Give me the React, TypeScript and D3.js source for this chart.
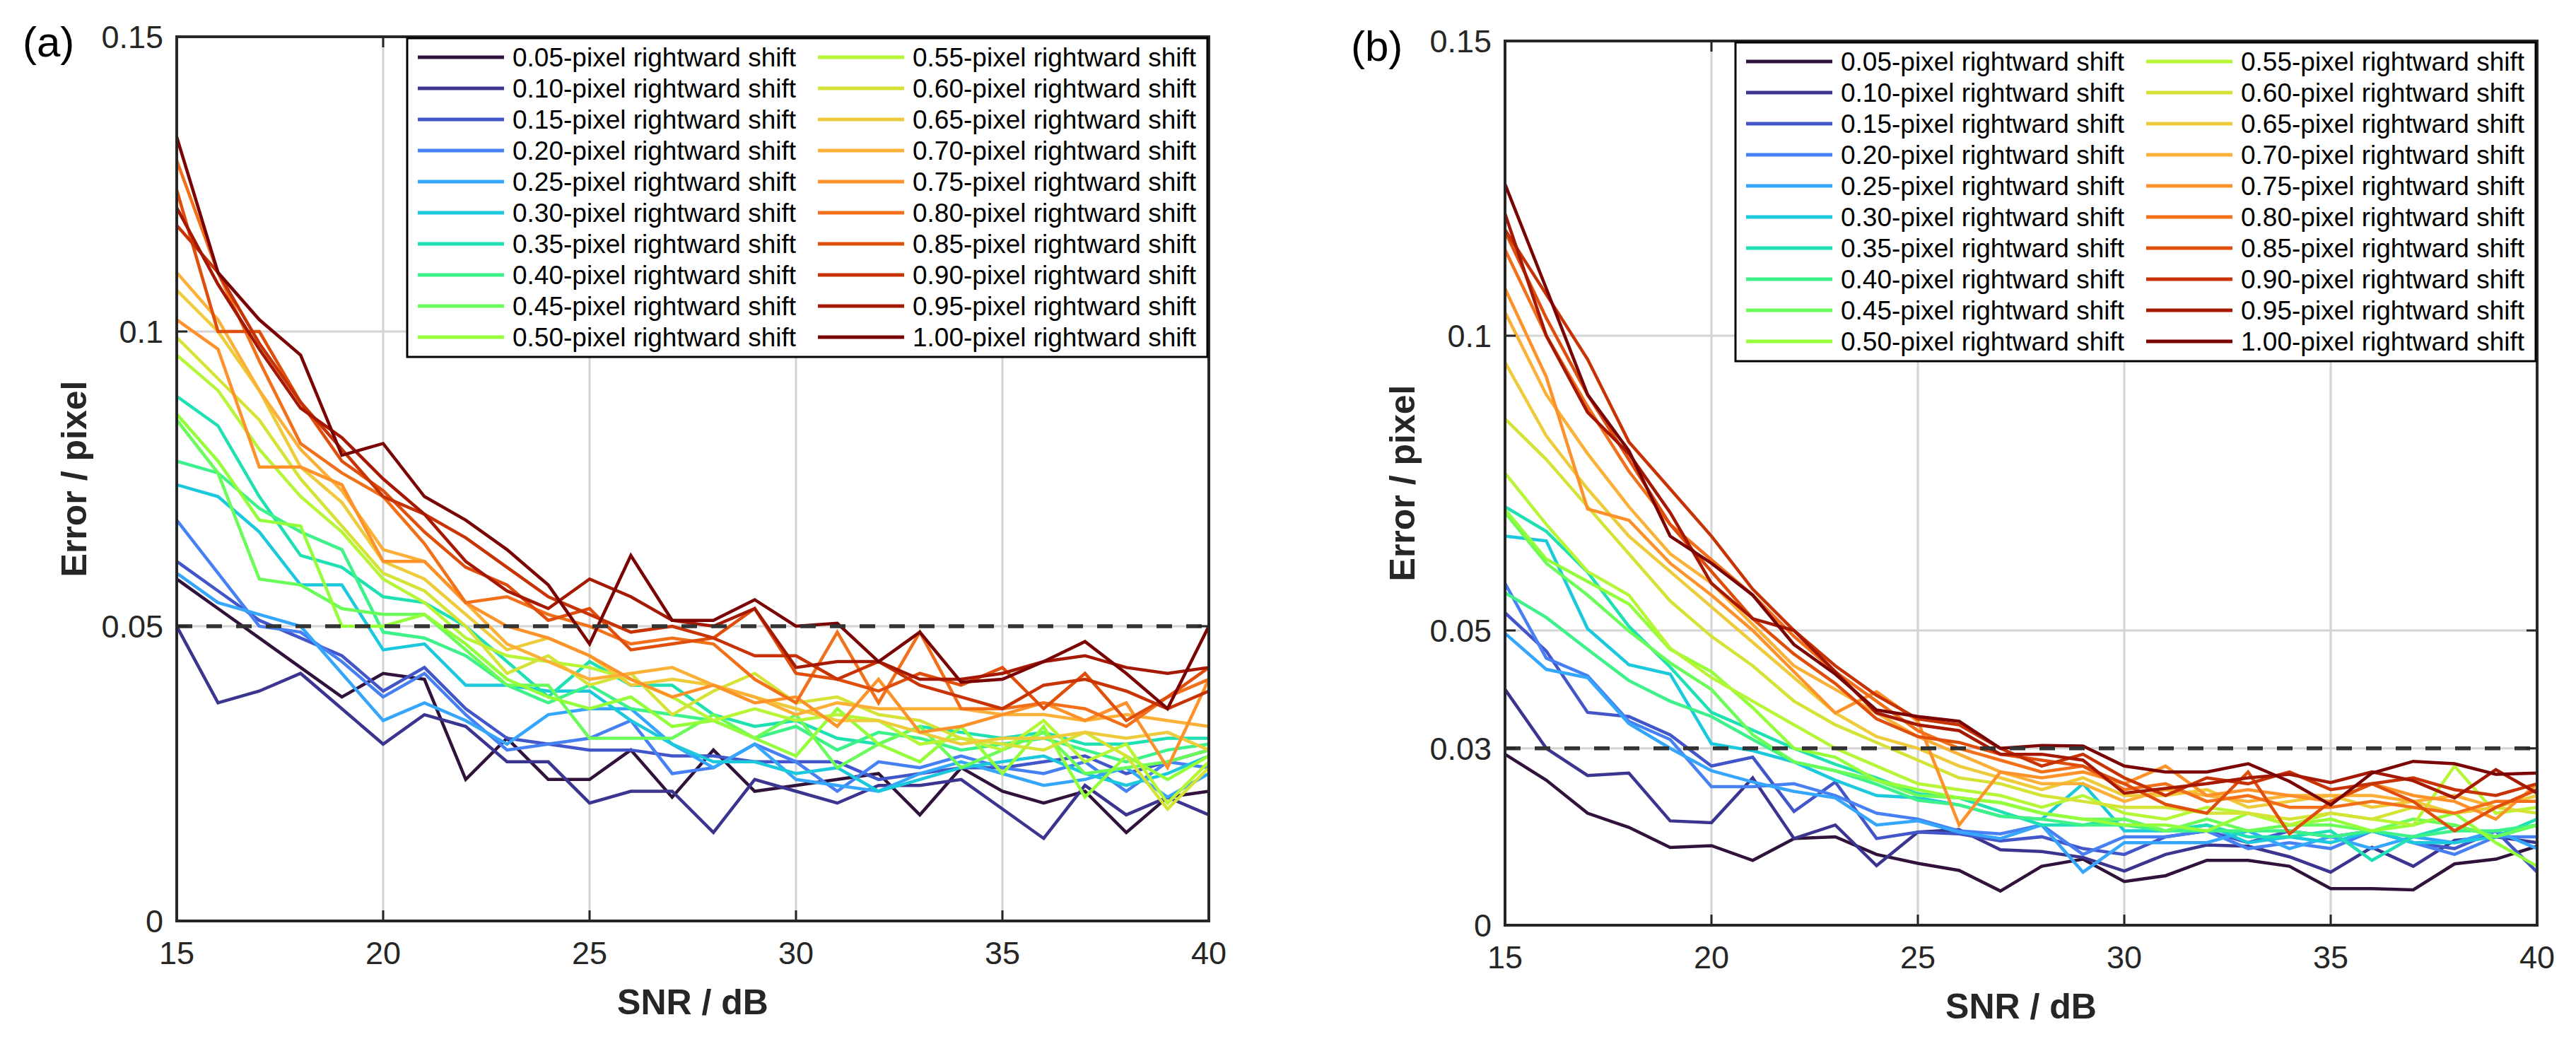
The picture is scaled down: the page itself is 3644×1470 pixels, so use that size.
import React from "react";
import * as d3 from "d3";

// ---------- data ----------
const snr = [15, 16, 17, 18, 19, 20, 21, 22, 23, 24, 25, 26, 27, 28, 29, 30, 31, 32, 33, 34, 35, 36, 37, 38, 39, 40];

const shiftLabels = [
  "0.05", "0.10", "0.15", "0.20", "0.25", "0.30", "0.35", "0.40", "0.45", "0.50",
  "0.55", "0.60", "0.65", "0.70", "0.75", "0.80", "0.85", "0.90", "0.95", "1.00",
];

const turboColors = [
  "#30123b", "#3b3590", "#4256c9", "#4680f2", "#35a6fb", "#1bc8dc", "#1fe0b2", "#3ef28a",
  "#6afd5a", "#94fe3b", "#b6f636", "#d5e336", "#eecb3a", "#fbb137", "#fd922a", "#f2701a",
  "#e04e0c", "#c73304", "#a51802", "#7a0403",
];

// panel (a) — error / pixel
const a05 = [0.058, 0.053, 0.048, 0.043, 0.038, 0.042, 0.041, 0.024, 0.031, 0.024, 0.024, 0.029, 0.021, 0.029, 0.022, 0.023, 0.024, 0.025, 0.018, 0.026, 0.022, 0.020, 0.022, 0.015, 0.021, 0.022];
const a10 = [0.050, 0.037, 0.039, 0.042, 0.036, 0.030, 0.035, 0.033, 0.027, 0.027, 0.020, 0.022, 0.022, 0.015, 0.024, 0.022, 0.020, 0.023, 0.023, 0.024, 0.019, 0.014, 0.023, 0.018, 0.021, 0.018];
const a15 = [0.061, 0.056, 0.051, 0.048, 0.045, 0.039, 0.043, 0.036, 0.031, 0.030, 0.029, 0.029, 0.028, 0.028, 0.027, 0.027, 0.027, 0.024, 0.025, 0.026, 0.026, 0.027, 0.028, 0.025, 0.027, 0.029];
const a20 = [0.068, 0.059, 0.050, 0.049, 0.044, 0.038, 0.042, 0.035, 0.029, 0.030, 0.031, 0.034, 0.025, 0.026, 0.030, 0.027, 0.022, 0.027, 0.026, 0.028, 0.026, 0.025, 0.027, 0.022, 0.027, 0.026];
const a25 = [0.059, 0.054, 0.052, 0.050, 0.042, 0.034, 0.037, 0.034, 0.030, 0.035, 0.036, 0.036, 0.030, 0.026, 0.030, 0.024, 0.023, 0.022, 0.025, 0.027, 0.025, 0.023, 0.024, 0.026, 0.021, 0.025];
const a30 = [0.074, 0.072, 0.066, 0.057, 0.057, 0.046, 0.047, 0.040, 0.040, 0.039, 0.039, 0.034, 0.030, 0.027, 0.027, 0.025, 0.026, 0.022, 0.024, 0.026, 0.027, 0.028, 0.025, 0.023, 0.025, 0.028];
const a35 = [0.089, 0.084, 0.072, 0.062, 0.060, 0.055, 0.054, 0.050, 0.044, 0.038, 0.044, 0.040, 0.040, 0.035, 0.033, 0.034, 0.031, 0.030, 0.033, 0.032, 0.031, 0.032, 0.030, 0.030, 0.031, 0.031];
const a40 = [0.078, 0.076, 0.070, 0.066, 0.063, 0.049, 0.048, 0.045, 0.040, 0.037, 0.040, 0.036, 0.035, 0.034, 0.031, 0.033, 0.029, 0.032, 0.031, 0.029, 0.030, 0.031, 0.029, 0.027, 0.029, 0.030];
const a45 = [0.085, 0.076, 0.058, 0.057, 0.053, 0.052, 0.052, 0.046, 0.040, 0.040, 0.031, 0.031, 0.031, 0.035, 0.031, 0.035, 0.026, 0.030, 0.033, 0.026, 0.029, 0.032, 0.025, 0.026, 0.027, 0.029];
const a50 = [0.086, 0.078, 0.068, 0.067, 0.050, 0.050, 0.052, 0.047, 0.041, 0.038, 0.036, 0.038, 0.033, 0.034, 0.031, 0.028, 0.036, 0.030, 0.027, 0.033, 0.025, 0.033, 0.021, 0.028, 0.024, 0.028];
const a55 = [0.096, 0.090, 0.080, 0.072, 0.066, 0.058, 0.054, 0.048, 0.045, 0.044, 0.043, 0.041, 0.038, 0.034, 0.036, 0.034, 0.035, 0.034, 0.030, 0.031, 0.029, 0.034, 0.027, 0.030, 0.020, 0.027];
const a60 = [0.099, 0.092, 0.085, 0.075, 0.067, 0.059, 0.056, 0.050, 0.042, 0.045, 0.040, 0.042, 0.035, 0.039, 0.042, 0.037, 0.038, 0.035, 0.034, 0.031, 0.030, 0.029, 0.032, 0.028, 0.019, 0.026];
const a65 = [0.107, 0.100, 0.090, 0.077, 0.071, 0.061, 0.058, 0.052, 0.046, 0.048, 0.045, 0.040, 0.041, 0.040, 0.038, 0.036, 0.034, 0.034, 0.032, 0.030, 0.031, 0.031, 0.032, 0.031, 0.032, 0.029];
const a70 = [0.110, 0.102, 0.090, 0.080, 0.073, 0.063, 0.061, 0.054, 0.047, 0.044, 0.041, 0.042, 0.043, 0.040, 0.038, 0.035, 0.037, 0.036, 0.036, 0.036, 0.035, 0.035, 0.034, 0.035, 0.034, 0.033];
const a75 = [0.102, 0.097, 0.077, 0.077, 0.074, 0.061, 0.061, 0.054, 0.050, 0.048, 0.045, 0.041, 0.038, 0.040, 0.037, 0.038, 0.033, 0.041, 0.032, 0.033, 0.035, 0.037, 0.034, 0.037, 0.026, 0.041];
const a80 = [0.129, 0.110, 0.095, 0.081, 0.076, 0.072, 0.064, 0.054, 0.055, 0.052, 0.050, 0.047, 0.048, 0.047, 0.041, 0.037, 0.049, 0.037, 0.049, 0.036, 0.036, 0.037, 0.036, 0.033, 0.038, 0.041];
const a85 = [0.124, 0.100, 0.100, 0.088, 0.078, 0.073, 0.066, 0.060, 0.057, 0.051, 0.053, 0.046, 0.047, 0.048, 0.053, 0.042, 0.041, 0.039, 0.042, 0.040, 0.043, 0.036, 0.042, 0.034, 0.038, 0.043];
const a90 = [0.118, 0.110, 0.098, 0.088, 0.080, 0.072, 0.069, 0.065, 0.060, 0.055, 0.052, 0.049, 0.050, 0.048, 0.045, 0.045, 0.041, 0.044, 0.040, 0.038, 0.036, 0.040, 0.041, 0.039, 0.036, 0.039];
const a95 = [0.121, 0.108, 0.097, 0.087, 0.082, 0.075, 0.069, 0.061, 0.056, 0.053, 0.058, 0.055, 0.051, 0.050, 0.053, 0.043, 0.044, 0.044, 0.041, 0.041, 0.042, 0.044, 0.045, 0.043, 0.042, 0.043];
const a100 = [0.133, 0.110, 0.102, 0.096, 0.079, 0.081, 0.072, 0.068, 0.063, 0.057, 0.047, 0.062, 0.051, 0.051, 0.0545, 0.050, 0.0505, 0.044, 0.049, 0.0405, 0.041, 0.044, 0.0474, 0.042, 0.036, 0.050];

// panel (b) — error / pixel
const b05 = [0.029, 0.0246, 0.019, 0.0166, 0.0132, 0.0135, 0.011, 0.0147, 0.015, 0.012, 0.0105, 0.0093, 0.0058, 0.010, 0.0112, 0.0074, 0.0084, 0.011, 0.011, 0.010, 0.0062, 0.0062, 0.006, 0.0104, 0.0112, 0.0134];
const b10 = [0.040, 0.030, 0.0254, 0.0258, 0.0177, 0.0174, 0.025, 0.0147, 0.017, 0.0101, 0.0158, 0.0162, 0.0128, 0.0125, 0.0115, 0.0092, 0.012, 0.0136, 0.0134, 0.0116, 0.009, 0.0132, 0.010, 0.0144, 0.015, 0.014];
const b15 = [0.053, 0.0465, 0.0361, 0.0354, 0.0323, 0.027, 0.0285, 0.0193, 0.0243, 0.0147, 0.0158, 0.0155, 0.0143, 0.015, 0.013, 0.012, 0.015, 0.016, 0.014, 0.016, 0.015, 0.016, 0.014, 0.013, 0.016, 0.009];
const b20 = [0.058, 0.0453, 0.0423, 0.0346, 0.0315, 0.0235, 0.0235, 0.024, 0.022, 0.019, 0.018, 0.016, 0.0155, 0.017, 0.012, 0.015, 0.015, 0.016, 0.013, 0.014, 0.013, 0.016, 0.014, 0.012, 0.015, 0.015];
const b25 = [0.0495, 0.0434, 0.042, 0.0342, 0.030, 0.0262, 0.0243, 0.0227, 0.0216, 0.017, 0.0177, 0.0158, 0.0147, 0.017, 0.009, 0.014, 0.014, 0.014, 0.016, 0.013, 0.015, 0.013, 0.015, 0.014, 0.016, 0.013];
const b30 = [0.066, 0.0652, 0.0503, 0.0442, 0.0426, 0.0308, 0.0296, 0.0277, 0.0246, 0.022, 0.0216, 0.0204, 0.0185, 0.018, 0.024, 0.016, 0.016, 0.017, 0.014, 0.015, 0.014, 0.016, 0.014, 0.014, 0.015, 0.017];
const b35 = [0.071, 0.0668, 0.0599, 0.0507, 0.0438, 0.0361, 0.0331, 0.030, 0.0273, 0.025, 0.0223, 0.0216, 0.0193, 0.017, 0.017, 0.018, 0.016, 0.017, 0.015, 0.015, 0.016, 0.011, 0.015, 0.017, 0.015, 0.018];
const b40 = [0.0564, 0.0522, 0.0468, 0.0415, 0.038, 0.0354, 0.0315, 0.0277, 0.0262, 0.0239, 0.0212, 0.0204, 0.0185, 0.018, 0.017, 0.017, 0.016, 0.016, 0.016, 0.016, 0.015, 0.016, 0.015, 0.016, 0.016, 0.017];
const b45 = [0.070, 0.0614, 0.056, 0.0499, 0.0445, 0.040, 0.0323, 0.0277, 0.0262, 0.0246, 0.022, 0.0216, 0.0208, 0.019, 0.018, 0.018, 0.016, 0.018, 0.016, 0.017, 0.017, 0.016, 0.018, 0.017, 0.015, 0.017];
const b50 = [0.0705, 0.0621, 0.0583, 0.0545, 0.0468, 0.043, 0.0369, 0.030, 0.0285, 0.0246, 0.023, 0.0216, 0.0208, 0.019, 0.018, 0.017, 0.017, 0.016, 0.019, 0.017, 0.018, 0.016, 0.017, 0.019, 0.014, 0.010];
const b55 = [0.0767, 0.068, 0.060, 0.056, 0.047, 0.042, 0.038, 0.034, 0.030, 0.027, 0.024, 0.023, 0.022, 0.020, 0.022, 0.019, 0.018, 0.020, 0.019, 0.017, 0.019, 0.018, 0.017, 0.027, 0.019, 0.020];
const b60 = [0.0859, 0.079, 0.071, 0.063, 0.055, 0.049, 0.044, 0.038, 0.034, 0.031, 0.028, 0.025, 0.024, 0.022, 0.021, 0.020, 0.020, 0.019, 0.019, 0.018, 0.019, 0.018, 0.020, 0.019, 0.020, 0.019];
const b65 = [0.0955, 0.083, 0.074, 0.066, 0.060, 0.054, 0.048, 0.042, 0.036, 0.032, 0.030, 0.027, 0.025, 0.023, 0.025, 0.022, 0.022, 0.023, 0.020, 0.021, 0.022, 0.020, 0.021, 0.019, 0.020, 0.022];
const b70 = [0.104, 0.090, 0.080, 0.071, 0.063, 0.058, 0.051, 0.044, 0.040, 0.036, 0.032, 0.029, 0.026, 0.024, 0.024, 0.021, 0.023, 0.022, 0.021, 0.022, 0.022, 0.022, 0.021, 0.022, 0.020, 0.023];
const b75 = [0.108, 0.093, 0.0706, 0.0687, 0.0614, 0.056, 0.050, 0.043, 0.036, 0.0396, 0.0346, 0.017, 0.026, 0.025, 0.026, 0.024, 0.027, 0.022, 0.023, 0.022, 0.021, 0.024, 0.022, 0.021, 0.018, 0.024];
const b80 = [0.1146, 0.100, 0.088, 0.077, 0.068, 0.062, 0.056, 0.049, 0.043, 0.038, 0.033, 0.030, 0.028, 0.026, 0.027, 0.023, 0.024, 0.021, 0.022, 0.020, 0.020, 0.021, 0.020, 0.019, 0.021, 0.021];
const b85 = [0.1177, 0.103, 0.090, 0.079, 0.068, 0.060, 0.052, 0.046, 0.041, 0.035, 0.032, 0.031, 0.029, 0.028, 0.027, 0.024, 0.0205, 0.019, 0.026, 0.0155, 0.021, 0.024, 0.021, 0.016, 0.020, 0.023];
const b90 = [0.118, 0.107, 0.096, 0.082, 0.074, 0.066, 0.057, 0.050, 0.044, 0.039, 0.035, 0.034, 0.030, 0.027, 0.029, 0.025, 0.022, 0.025, 0.024, 0.026, 0.023, 0.024, 0.025, 0.023, 0.022, 0.024];
const b95 = [0.1207, 0.100, 0.087, 0.080, 0.070, 0.058, 0.052, 0.050, 0.043, 0.036, 0.034, 0.033, 0.029, 0.029, 0.028, 0.0224, 0.0232, 0.024, 0.025, 0.0256, 0.0242, 0.026, 0.0245, 0.0216, 0.0264, 0.0224];
const b100 = [0.1257, 0.108, 0.090, 0.0805, 0.066, 0.0614, 0.056, 0.0476, 0.0426, 0.0365, 0.0354, 0.0346, 0.030, 0.0305, 0.0304, 0.027, 0.026, 0.026, 0.0274, 0.0244, 0.0204, 0.0258, 0.0278, 0.0274, 0.0256, 0.0258];

const seriesA = [a05, a10, a15, a20, a25, a30, a35, a40, a45, a50, a55, a60, a65, a70, a75, a80, a85, a90, a95, a100];
const seriesB = [b05, b10, b15, b20, b25, b30, b35, b40, b45, b50, b55, b60, b65, b70, b75, b80, b85, b90, b95, b100];

const xTicks = [15, 20, 25, 30, 35, 40];
const yTicksA = [0, 0.05, 0.1, 0.15];
const yTickLabelsA = ["0", "0.05", "0.1", "0.15"];
const yTicksB = [0, 0.03, 0.05, 0.1, 0.15];
const yTickLabelsB = ["0", "0.03", "0.05", "0.1", "0.15"];
const thresholdA = 0.05;
const thresholdB = 0.03;

// ---------- drawing ----------
const FONT = "'Liberation Sans', Arial, Helvetica, sans-serif";
const AX = "#262626";

type PanelProps = {
  left: number;
  top: number;
  width: number;
  height: number;
  series: number[][];
  yTicks: number[];
  yTickLabels: string[];
  threshold: number;
  tag: string;
};

function Panel({ left, top, width, height, series, yTicks, yTickLabels, threshold, tag }: PanelProps) {
  const x = d3.scaleLinear().domain([15, 40]).range([left, left + width]);
  const y = d3.scaleLinear().domain([0, 0.15]).range([top + height, top]);
  const line = d3
    .line<number>()
    .x((_, i) => x(snr[i]))
    .y((d) => y(d));

  const tickLen = 15;
  const legW = 1132;
  const legH = 451;
  const legX = left + width - 2 - legW;
  const legY = top + 2;
  const rowH = 44;

  return (
    <g>
      {/* grid */}
      {xTicks.slice(1, -1).map((t) => (
        <line key={"gx" + t} x1={x(t)} x2={x(t)} y1={top} y2={top + height} stroke="#d4d4d4" strokeWidth={3} />
      ))}
      {yTicks.slice(1, -1).map((t) => (
        <line key={"gy" + t} x1={left} x2={left + width} y1={y(t)} y2={y(t)} stroke="#d4d4d4" strokeWidth={3} />
      ))}

      {/* series */}
      {series.map((s, i) => (
        <path key={"s" + i} d={line(s) || ""} fill="none" stroke={turboColors[i]} strokeWidth={4.5} strokeLinejoin="miter" strokeMiterlimit={4} />
      ))}

      {/* threshold */}
      <line x1={left} x2={left + width} y1={y(threshold)} y2={y(threshold)} stroke="#333333" strokeWidth={5.5} strokeDasharray="22 20" />

      {/* ticks */}
      {xTicks.map((t) => (
        <g key={"tx" + t}>
          <line x1={x(t)} x2={x(t)} y1={top + height} y2={top + height - tickLen} stroke={AX} strokeWidth={3} />
          <line x1={x(t)} x2={x(t)} y1={top} y2={top + tickLen} stroke={AX} strokeWidth={3} />
          <text x={x(t)} y={top + height + 61} textAnchor="middle" fontSize={45} fontFamily={FONT} fill={AX}>
            {t}
          </text>
        </g>
      ))}
      {yTicks.map((t, i) => (
        <g key={"ty" + t}>
          <line x1={left} x2={left + tickLen} y1={y(t)} y2={y(t)} stroke={AX} strokeWidth={3} />
          <line x1={left + width} x2={left + width - tickLen} y1={y(t)} y2={y(t)} stroke={AX} strokeWidth={3} />
          <text x={left - 19} y={y(t) + 16} textAnchor="end" fontSize={45} fontFamily={FONT} fill={AX}>
            {yTickLabels[i]}
          </text>
        </g>
      ))}

      {/* box */}
      <rect x={left} y={top} width={width} height={height} fill="none" stroke={AX} strokeWidth={4} />

      {/* legend */}
      <rect x={legX} y={legY} width={legW} height={legH} fill="#ffffff" stroke="#000000" strokeWidth={3} />
      {shiftLabels.map((lab, i) => {
        const col = Math.floor(i / 10);
        const row = i % 10;
        const cx = legX + (col === 0 ? 15 : 581);
        const cy = legY + 27 + row * rowH;
        return (
          <g key={"lg" + i}>
            <line x1={cx} x2={cx + 122} y1={cy} y2={cy} stroke={turboColors[i]} strokeWidth={5} />
            <text x={cx + 134} y={cy + 13} fontSize={37} fontFamily={FONT} fill="#000000">
              {lab}-pixel rightward shift
            </text>
          </g>
        );
      })}

      {/* axis labels */}
      <text x={left + width / 2} y={top + height + 132} textAnchor="middle" fontSize={50} fontWeight="bold" fontFamily={FONT} fill={AX}>
        SNR / dB
      </text>
      <text
        transform={`translate(${left - 128},${top + height / 2}) rotate(-90)`}
        textAnchor="middle"
        fontSize={50}
        fontWeight="bold"
        fontFamily={FONT}
        fill={AX}
      >
        Error / pixel
      </text>
      <text x={left - 218} y={top + 28} fontSize={60} fontFamily={FONT} fill="#000000">
        {tag}
      </text>
    </g>
  );
}

export default function App() {
  return (
    <svg
      width={3644}
      height={1470}
      viewBox="0 0 3644 1470"
      style={{ position: "absolute", left: 0, top: 0, background: "#ffffff" }}
    >
      <rect x={0} y={0} width={3644} height={1470} fill="#ffffff" />
      <Panel left={250} top={52} width={1460} height={1251} series={seriesA} yTicks={yTicksA} yTickLabels={yTickLabelsA} threshold={thresholdA} tag="(a)" />
      <Panel left={2129} top={58} width={1460} height={1251} series={seriesB} yTicks={yTicksB} yTickLabels={yTickLabelsB} threshold={thresholdB} tag="(b)" />
    </svg>
  );
}
